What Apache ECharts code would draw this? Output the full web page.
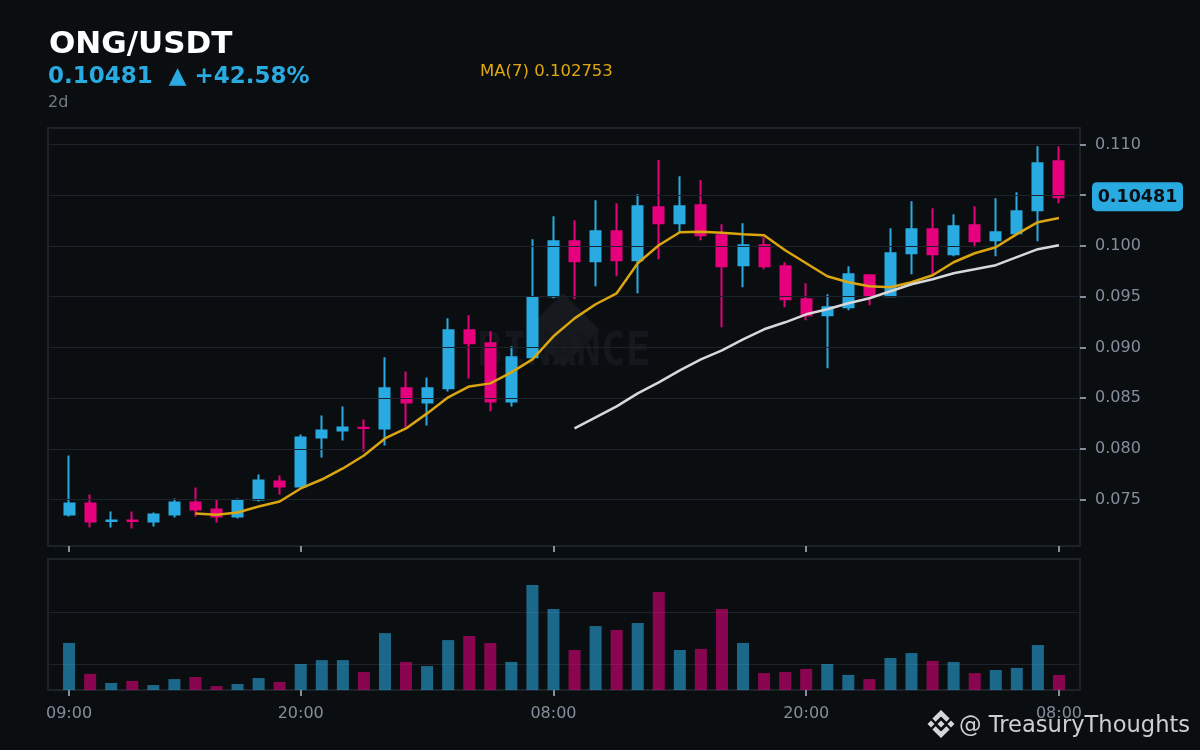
<!DOCTYPE html>
<html><head><meta charset="utf-8">
<style>html,body{margin:0;padding:0;background:#0b0e11}#c{width:1200px;height:750px}</style>
<script src="https://cdn.jsdelivr.net/npm/echarts@6/dist/echarts.min.js"></script>
</head><body><div id="c"></div>
<script>
const times=['09:00','10:00','11:00','12:00','13:00','14:00','15:00','16:00','17:00','18:00','19:00','20:00','21:00','22:00','23:00','00:00','01:00','02:00','03:00','04:00','05:00','06:00','07:00','08:00','09:00','10:00','11:00','12:00','13:00','14:00','15:00','16:00','17:00','18:00','19:00','20:00','21:00','22:00','23:00','00:00','01:00','02:00','03:00','04:00','05:00','06:00','07:00','08:00'];
const labelledCandles=[0,11,23,35,47];
const yTicks=[0.075,0.08,0.085,0.09,0.095,0.10,0.105,0.11];
const opens=[.07352,.07461,.07288,.07292,.07283,.07352,.07470,.07401,.07332,.07500,.07678,.07628,.08112,.08181,.08208,.08201,.08596,.08457,.08596,.09168,.09040,.08467,.08902,.09504,.10046,.09849,.10145,.09859,.10382,.10224,.10402,.10106,.09810,.10007,.09800,.09474,.09316,.09395,.09711,.09504,.09928,.10165,.09918,.10204,.10056,.10125,.10352,.10836];
const closes=[.07461,.07283,.07292,.07288,.07352,.07470,.07401,.07332,.07490,.07688,.07628,.08112,.08181,.08211,.08204,.08596,.08457,.08596,.09168,.09040,.08467,.08902,.09494,.10046,.09849,.10145,.09859,.10392,.10224,.10392,.10106,.09800,.10007,.09800,.09474,.09316,.09395,.09721,.09504,.09928,.10165,.09918,.10195,.10046,.10135,.10343,.10816,.10481];
const lows=[.07332,.07224,.07224,.07214,.07234,.07322,.07332,.07273,.07312,.07480,.07549,.07618,.07915,.08082,.07974,.08033,.08211,.08230,.08566,.08694,.08369,.08418,.08902,.09484,.09474,.09602,.09701,.09533,.09869,.10135,.10056,.09198,.09592,.09770,.09395,.09267,.08793,.09365,.09415,.09504,.09721,.09721,.09898,.09987,.09898,.10125,.10046,.10422];
const highs=[.07934,.07549,.07382,.07382,.07372,.07510,.07618,.07500,.07510,.07747,.07737,.08142,.08329,.08418,.08290,.08902,.08763,.08704,.09286,.09316,.09158,.09010,.10066,.10293,.10254,.10451,.10422,.10510,.10846,.10688,.10649,.10214,.10224,.10086,.09839,.09632,.09523,.09800,.09721,.10175,.10441,.10372,.10313,.10392,.10471,.10530,.10984,.10984];
const ma7=[null,null,null,null,null,null,.07362,.07349,.07372,.07431,.07480,.07609,.07697,.07806,.07934,.08102,.08201,.08349,.08507,.08615,.08645,.08753,.08882,.09109,.09286,.09425,.09533,.09829,.10007,.10135,.10140,.10130,.10116,.10106,.09958,.09829,.09701,.09642,.09602,.09592,.09642,.09711,.09839,.09928,.09987,.10116,.10234,.102753];
const ma25=[null,null,null,null,null,null,null,null,null,null,null,null,null,null,null,null,null,null,null,null,null,null,null,null,.08201,.08309,.08418,.08546,.08655,.08773,.08882,.08971,.09079,.09178,.09247,.09326,.09375,.09435,.09484,.09553,.09622,.09671,.09731,.09770,.09810,.09889,.09968,.10007];
const volumes=[1.81,.62,.27,.35,.19,.42,.50,.15,.23,.46,.31,1.00,1.15,1.15,.69,2.19,1.08,.92,1.92,2.08,1.81,1.08,4.04,3.12,1.54,2.46,2.31,2.58,3.77,1.54,1.58,3.12,1.81,.65,.69,.81,1.00,.58,.42,1.23,1.42,1.12,1.08,.65,.77,.85,1.73,.58];
const lastClose=closes[closes.length-1];
const UP='#29abe2',DOWN='#e6007e',BG='#0b0e11',GRID='#1e2329',TXT='#848e9c';
const F='"DejaVu Sans"';
const pad=a=>[null,...a,null];
const cats=['',...times,''];
const show=i=>labelledCandles.includes(i-1);
const chart=echarts.init(document.getElementById('c'),null,{renderer:'canvas'});
const xBase=m=>({type:'category',data:cats,boundaryGap:false,
  axisLine:{show:false},splitLine:{show:false},
  axisTick:{show:true,interval:show,length:6,lineStyle:{color:TXT,width:2}},
  axisLabel:{show:true,interval:show,color:TXT,fontSize:16,fontFamily:F,margin:m,hideOverlap:false}});
function tx(text,x,y,font,fill){return {type:'text',z:100,silent:true,x:x,y:y,style:{text:text,font:font,fill:fill,align:'left',verticalAlign:'middle'}};}
const L=941,T=724;
const poly=(pts,fill)=>({type:'polygon',x:L,y:T,z:100,silent:true,shape:{points:pts},style:{fill:fill}});
const d=(cx,cy,r)=>[[cx,cy-r],[cx+r,cy],[cx,cy+r],[cx-r,cy]];
const LOGO='#d6d6d6';
const option={
  backgroundColor:BG,animation:false,
  grid:[
    {left:48,top:128,width:1032,height:418,show:true,backgroundColor:BG,borderColor:GRID,borderWidth:2,containLabel:false,z:0},
    {left:48,top:559,width:1032,height:131,show:true,backgroundColor:BG,borderColor:GRID,borderWidth:2,containLabel:false,z:1}
  ],
  xAxis:[Object.assign(xBase(13),{gridIndex:0,z:0}),Object.assign(xBase(16),{gridIndex:1,z:2})],
  yAxis:[
    {type:'value',gridIndex:0,position:'right',min:0.070416,max:0.111627,scale:true,z:3,
     axisLine:{show:false},
     axisTick:{show:true,customValues:yTicks,length:6,lineStyle:{color:TXT,width:2}},
     axisLabel:{show:true,customValues:yTicks,color:TXT,fontSize:16,fontFamily:F,margin:15,formatter:v=>v.toFixed(3)},
     splitLine:{show:true,lineStyle:{color:GRID,width:1}}},
    {type:'value',gridIndex:1,min:0,max:5.04,z:1,
     axisLine:{show:false},axisLabel:{show:false},
     axisTick:{show:false,customValues:[1,3]},
     splitLine:{show:true,lineStyle:{color:GRID,width:1}}}
  ],
  graphic:[
    {type:'polygon',z:1,silent:true,x:563,y:330,shape:{points:d(0,0,37)},style:{fill:'#16191d'}},
    {type:'text',z:1,silent:true,x:564,y:353,scaleY:1.13,style:{text:'BINANCE',font:'bold 41px "DejaVu Sans Mono"',fill:'#14171b',align:'center',verticalAlign:'middle'}},
    tx('ONG/USDT',49,45,'bold 31px '+F,'#ffffff'),
    tx('0.10481  \u25B2 +42.58%',48,77,'bold 23px '+F,UP),
    tx('2d',48,103,'16px '+F,'#757b85'),
    tx('MA(7) 0.102753',480,72,'16.5px '+F,'#e0a80d'),
    tx('@ TreasuryThoughts',959,726,'22.6px '+F,'#cfcfcf'),
    poly(d(0,0,3.5),LOGO),poly(d(-10,0,3.5),LOGO),poly(d(10,0,3.5),LOGO),
    poly([[0,-14],[8.6,-5.4],[5.4,-2.2],[0,-7.6],[-5.4,-2.2],[-8.6,-5.4]],LOGO),
    poly([[0,14],[8.6,5.4],[5.4,2.2],[0,7.6],[-5.4,2.2],[-8.6,5.4]],LOGO)
  ],
  series:[
    {type:'candlestick',name:'ONG/USDT',xAxisIndex:0,yAxisIndex:0,z:2,barWidth:10.5,
     data:pad(opens.map((o,i)=>[o,closes[i],lows[i],highs[i]])).map(v=>v===null?'-':v),
     itemStyle:{color:UP,color0:DOWN,borderColor:UP,borderColor0:DOWN,borderWidth:2}},
    {type:'line',name:'MA7',xAxisIndex:0,yAxisIndex:0,z:5,data:pad(ma7),symbol:'none',lineStyle:{color:'#dba50f',width:2.5}},
    {type:'line',name:'MA25',xAxisIndex:0,yAxisIndex:0,z:5,data:pad(ma25),symbol:'none',lineStyle:{color:'#d8d8d8',width:2.5}},
    {type:'bar',name:'Volume',xAxisIndex:1,yAxisIndex:1,z:3,barWidth:12,
     data:pad(volumes.map((v,i)=>({value:v,itemStyle:{color:closes[i]>=opens[i]?UP:DOWN}}))).map(v=>v===null?'-':v),
     itemStyle:{opacity:.58}}
  ]
};
chart.setOption(option);
const py=chart.convertToPixel({yAxisIndex:0},lastClose);
chart.setOption({graphic:option.graphic.concat([
  {type:'rect',z:100,silent:true,x:1092,y:py-15,shape:{width:91,height:29,r:5},style:{fill:UP}},
  {type:'text',z:101,silent:true,x:1137.5,y:py,style:{text:lastClose.toFixed(5),font:'bold 17.5px '+F,fill:BG,align:'center',verticalAlign:'middle'}}
])});
</script></body></html>
